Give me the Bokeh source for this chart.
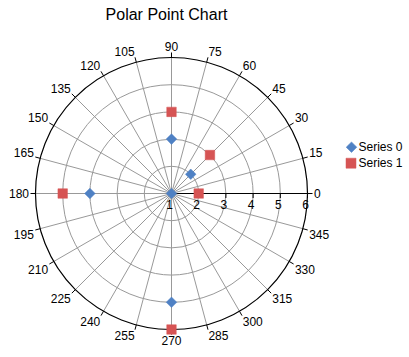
import numpy as np
from bokeh.plotting import figure
from bokeh.models import Range1d, Label, ColumnDataSource
from bokeh.core.properties import value
from bokeh.embed import file_html
from bokeh.resources import INLINE

title = "Polar Point Chart"
angle_ticks = list(range(0, 360, 15))
radial_ticks = [1, 2, 3, 4, 5, 6]
series_names = ["Series 0", "Series 1"]
series0_angle = [0, 45, 90, 180, 270]
series0_r = [1, 2, 3, 4, 5]
series1_angle = [0, 45, 90, 180, 270]
series1_r = [2, 3, 4, 5, 6]

r_min, r_max = radial_ticks[0], radial_ticks[-1]
PX = 27.2            # pixels per radial unit
W, H = 409, 357
CX, CY = 171, 193    # centre of the polar area (px from top-left)
FONT = "Liberation Sans"
BLUE = "#4F81C4"
RED = "#D65454"
GRAY = "#999999"


def to_xy(r, a):
    rr = np.asarray(r, dtype=float) - r_min
    t = np.deg2rad(np.asarray(a, dtype=float))
    return rr * np.cos(t), rr * np.sin(t)


def screen_to_data(sx, sy):
    return (sx - CX) / PX, (CY - sy) / PX


p = figure(width=W, height=H, output_backend="svg", toolbar_location=None,
           x_range=Range1d(-CX / PX, (W - CX) / PX),
           y_range=Range1d(-(H - CY) / PX, CY / PX),
           x_axis_type=None, y_axis_type=None, min_border=0,
           outline_line_color=None, background_fill_color="white",
           border_fill_color="white")
p.grid.visible = False

R = r_max - r_min
# rings
inner = [r - r_min for r in radial_ticks[1:-1]]
p.circle(x=[0] * len(inner), y=[0] * len(inner), radius=inner,
         fill_color=None, line_color=GRAY, line_width=1)

# spokes
ang = np.deg2rad(np.array(angle_ticks[1:], dtype=float))
p.segment(x0=0, y0=0, x1=R * np.cos(ang), y1=R * np.sin(ang),
          line_color=GRAY, line_width=1)
# outer circle
p.circle(x=[0], y=[0], radius=[R], fill_color=None, line_color="black", line_width=1.2)
# radial axis line
p.segment(x0=[0], y0=[0], x1=[R], y1=[0], line_color="black", line_width=1.2)

# angular ticks
angall = np.deg2rad(np.array(angle_ticks, dtype=float))
tl = 5 / PX
p.segment(x0=R * np.cos(angall), y0=R * np.sin(angall),
          x1=(R + tl) * np.cos(angall), y1=(R + tl) * np.sin(angall),
          line_color="black", line_width=1)

# radial ticks
rt = [r - r_min for r in radial_ticks[1:]]
p.segment(x0=rt, y0=[0] * len(rt), x1=rt, y1=[-4.5 / PX] * len(rt),
          line_color="black", line_width=1)

# angular labels
RL = R + 6.5 / PX
c, s = np.cos(angall), np.sin(angall)
eps = 1e-6
aligns = ["left" if v > eps else ("right" if v < -eps else "center") for v in c]
bases = ["bottom" if v > eps else ("top" if v < -eps else "middle") for v in s]
lab_src = ColumnDataSource(dict(x=RL * c, y=RL * s, t=[str(a) for a in angle_ticks],
                                al=aligns, bl=bases))
p.text(x="x", y="y", text="t", source=lab_src, text_align="al", text_baseline="bl",
       text_font=value(FONT), text_font_size="12px", text_color="black")

# radial labels
p.text(x=[r - r_min for r in radial_ticks], y=[0] * len(radial_ticks),
       text=[str(r) for r in radial_ticks], x_offset=-2, y_offset=6,
       text_align="center", text_baseline="top",
       text_font=value(FONT), text_font_size="12px", text_color="black")

# data
x0, y0 = to_xy(series0_r, series0_angle)
x1, y1 = to_xy(series1_r, series1_angle)
p.scatter(x=x0, y=y0, marker="square", angle=np.pi / 4, size=7.5,
          fill_color=BLUE, line_color=BLUE, line_width=0.5)
p.scatter(x=x1, y=y1, marker="square", size=9.5,
          fill_color=RED, line_color=RED, line_width=0.5)

# legend (drawn by hand to match the marker sizes)
lx0, ly0 = screen_to_data(351, 146.7)
lx1, ly1 = screen_to_data(350.5, 162.7)
p.scatter(x=[lx0], y=[ly0], marker="square", angle=np.pi / 4, size=7.5,
          fill_color=BLUE, line_color=BLUE, line_width=0.5)
p.scatter(x=[lx1], y=[ly1], marker="square", size=10,
          fill_color=RED, line_color=RED, line_width=0.5)
for name, sy in zip(series_names, [146.7, 162.7]):
    p.add_layout(Label(x=358, y=H - sy, x_units="screen", y_units="screen",
                       text=name, text_align="left", text_baseline="middle",
                       text_font=FONT, text_font_size="12px", text_color="black"))

p.add_layout(Label(x=166, y=H - 14, x_units="screen", y_units="screen",
                   text=title, text_align="center", text_baseline="alphabetic",
                   text_font=FONT, text_font_size="16px", text_color="black"))

open("out.html", "w").write(file_html(p, INLINE))
